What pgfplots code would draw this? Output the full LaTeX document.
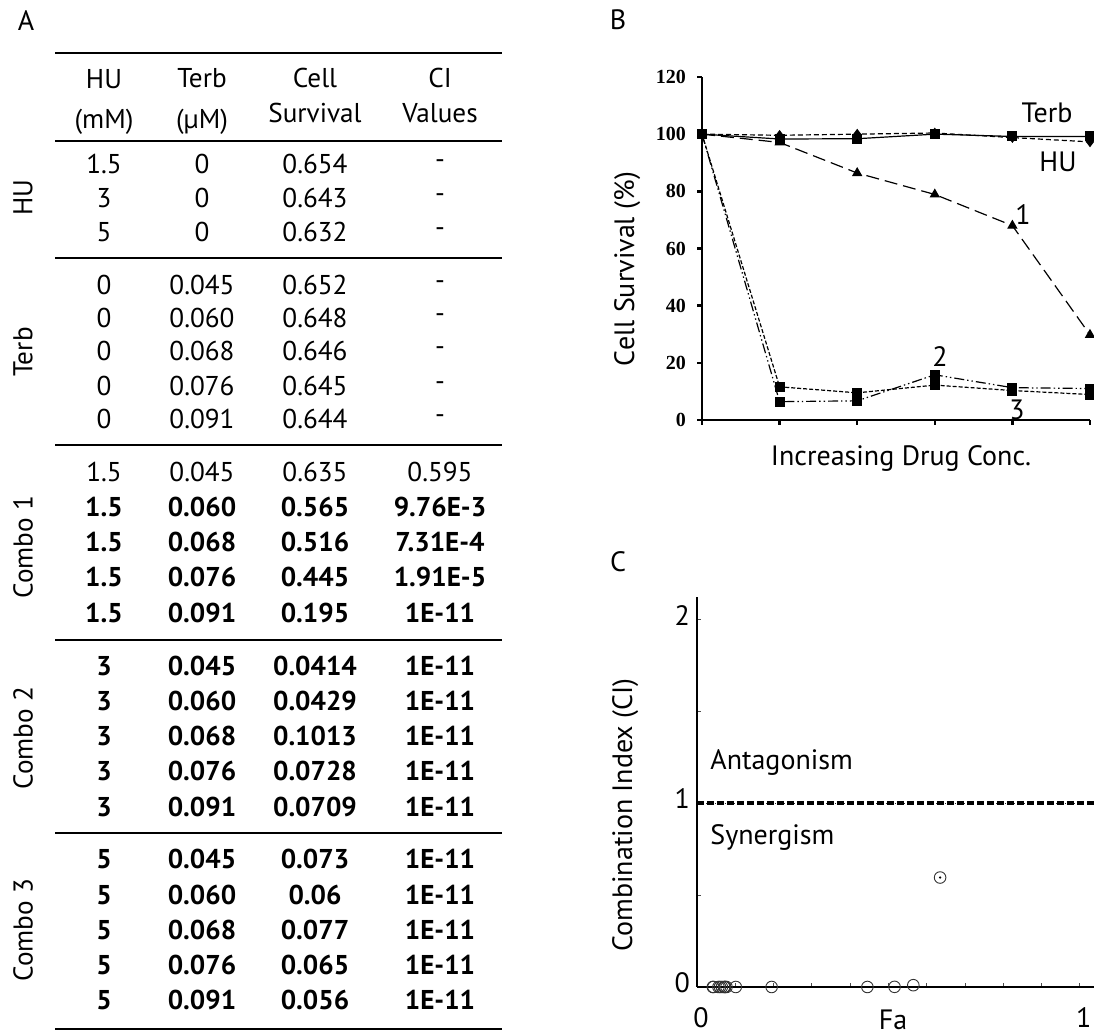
\documentclass[border=0pt]{standalone}
\usepackage{fontspec}
\setmainfont{PT Sans}
\newfontfamily\tnr{Liberation Serif}
\usepackage{pgfplots}
\pgfplotsset{compat=1.18}

\begin{document}
\begin{tikzpicture}
\useasboundingbox (0,0) rectangle (547pt,518pt);

% ---------- panel A: table, coordinates in reference pixels ----------
\begin{scope}[x=0.5pt,y=-0.5pt,shift={(0pt,518pt)},
  tab/.style={font=\fontsize{13.6}{15}\selectfont, inner sep=0pt},
  tabb/.style={font=\fontsize{13.6}{15}\selectfont\bfseries, inner sep=0pt},
  lbl/.style={font=\fontsize{14}{16}\selectfont, inner sep=0pt}]
  \node[lbl] at (26,21) {A};
  \node[lbl] at (618,20) {B};
  \node[lbl] at (618,562) {C};

  \foreach \yy in {53,141,258,445,640,833,1029}
    \draw[line width=1pt] (55,\yy) -- (502,\yy);

  \node[tab] at (104,79) {HU};   \node[tab] at (104,122) {(mM)};
  \node[tab] at (202,78) {Terb}; \node[tab] at (202,122) {(µM)};
  \node[tab] at (315,78) {Cell}; \node[tab] at (315,113) {Survival};
  \node[tab] at (440,78) {CI};   \node[tab] at (440,113) {Values};

  \node[tab,rotate=90] at (23,198) {HU};
  \node[tab,rotate=90] at (23,352) {Terb};
  \node[tab,rotate=90] at (23,547) {Combo 1};
  \node[tab,rotate=90] at (23,738) {Combo 2};
  \node[tab,rotate=90] at (23,930) {Combo 3};

  \foreach \yy/\a/\b/\c/\d in {164/1.5/0/0.654/-, 198/3/0/0.643/-, 232/5/0/0.632/-,
      285/0/0.045/0.652/-, 318/0/0.060/0.648/-, 351/0/0.068/0.646/-,
      386/0/0.076/0.645/-, 419/0/0.091/0.644/-, 472/1.5/0.045/0.635/0.595}
  {
    \node[tab] at (104,\yy) {\a}; \node[tab] at (202,\yy) {\b};
    \node[tab] at (315,\yy) {\c}; \node[tab] at (440,\yy) {\d};
  }
  \foreach \yy/\a/\b/\c/\d in {507/1.5/0.060/0.565/9.76E-3, 542/1.5/0.068/0.516/7.31E-4,
      577/1.5/0.076/0.445/1.91E-5, 613/1.5/0.091/0.195/1E-11,
      666/3/0.045/0.0414/1E-11, 701/3/0.060/0.0429/1E-11, 736/3/0.068/0.1013/1E-11,
      771/3/0.076/0.0728/1E-11, 807/3/0.091/0.0709/1E-11,
      859/5/0.045/0.073/1E-11, 895/5/0.060/0.06/1E-11, 930/5/0.068/0.077/1E-11,
      965/5/0.076/0.065/1E-11, 1000/5/0.091/0.056/1E-11}
  {
    \node[tabb] at (104,\yy) {\a}; \node[tabb] at (202,\yy) {\b};
    \node[tabb] at (315,\yy) {\c}; \node[tabb] at (440,\yy) {\d};
  }

  % curve names in panel B, region names in panel C
  \node[lbl] at (1047,113) {Terb};
  \node[lbl] at (1058,162) {HU};
  \node[lbl] at (1023,215) {1};
  \node[lbl] at (940,357) {2};
  \node[lbl] at (1017,410) {3};
  \node[lbl,anchor=west] at (710,763) {Antagonism};
  \node[lbl,anchor=west] at (710,838) {Synergism};
\end{scope}

% ---------- panel B ----------
\begin{axis}[
  at={(351pt,308pt)}, anchor=south west,
  width=194pt, height=171.5pt, scale only axis,
  xmin=0, xmax=5, ymin=0, ymax=120,
  axis x line*=bottom, axis y line*=left,
  axis line style={line width=1.25pt},
  xtick={0,...,5}, xticklabels={},
  ytick={0,20,...,120},
  tick align=outside, major tick length=2.5pt,
  tick style={line width=1.25pt, black},
  /pgf/number format/assume math mode=true,
  yticklabel style={font=\tnr\bfseries\fontsize{10}{12}\selectfont, xshift=-2pt},
  clip=false,
  xlabel={Increasing Drug Conc.},
  ylabel={Cell Survival (\%)},
  label style={font=\fontsize{14}{16}\selectfont},
  xlabel style={at={(axis description cs:0.513,-0.111)}, anchor=center},
  ylabel style={at={(axis description cs:-0.193,0.44)}, anchor=center},
  every axis plot/.append style={black, line width=0.6pt, mark size=2.2pt, mark options={solid, fill=black}},
]
\addplot[solid, mark=square*] coordinates {(0,100)(1,98.3)(2,98.4)(3,100)(4,99.2)(5,99.2)};
\addplot[dash pattern=on 2.5pt off 1.5pt, mark=diamond*] coordinates {(0,100)(1,99.6)(2,100)(3,100.4)(4,98.8)(5,97.3)};
\addplot[dash pattern=on 6.5pt off 3pt, mark=triangle*, mark size=2.4pt] coordinates {(0,100)(1,97.1)(2,86.4)(3,78.9)(4,68.0)(5,29.8)};
\addplot[dash pattern=on 5pt off 1.5pt on 0.7pt off 1.5pt on 0.7pt off 1.5pt, mark=square*] coordinates {(0,100)(1,6.4)(2,6.7)(3,15.8)(4,11.3)(5,11.0)};
\addplot[dash pattern=on 2pt off 1pt, mark=square*] coordinates {(0,100)(1,11.6)(2,9.5)(3,12.2)(4,10.3)(5,8.9)};
\end{axis}

% ---------- panel C ----------
\begin{axis}[
  at={(348.5pt,24.5pt)}, anchor=south west,
  width=198.5pt, height=195pt, scale only axis,
  xmin=0, xmax=1.037, ymin=0, ymax=2.12,
  axis x line*=bottom, axis y line*=left,
  axis line style={line width=1.25pt},
  xtick={0,1}, minor xtick={0.1,0.2,...,1.0},
  ytick={0,1,2}, minor ytick={0.5,1.5},
  tick align=inside, major tick length=2pt, minor tick length=2pt,
  tick style={line width=0.4pt, black!70},
  /pgf/number format/assume math mode=true,
  ticklabel style={font=\fontsize{14}{16}\selectfont},
  xticklabel style={yshift=-7pt, xshift=2pt},
  yticklabel style={yshift=2pt},
  clip=false,
  xlabel={Fa},
  ylabel={Combination Index (CI)},
  label style={font=\fontsize{14}{16}\selectfont},
  xlabel style={at={(axis description cs:0.494,-0.083)}, anchor=center},
  ylabel style={at={(axis description cs:-0.181,0.441)}, anchor=center},
]
\addplot[black!80, line width=0.3pt, dotted] coordinates {(0,1)(1.037,1)};
\addplot[black, line width=1.75pt, dash pattern=on 3.5pt off 1.5pt] coordinates {(0,1)(1.037,1)};
\addplot[only marks, mark=o, mark size=2.9pt, mark options={black!80, line width=0.45pt}]
  coordinates {(0.635,0.595)(0.565,0.00976)(0.516,0.000731)(0.445,0.0000191)(0.195,0)
               (0.0414,0)(0.0429,0)(0.1013,0)(0.0728,0)(0.0709,0)
               (0.073,0)(0.06,0)(0.077,0)(0.065,0)(0.056,0)};
\addplot[only marks, mark=*, mark size=0.35pt, black] coordinates {(0.635,0.595)};
\end{axis}
\end{tikzpicture}
\end{document}
